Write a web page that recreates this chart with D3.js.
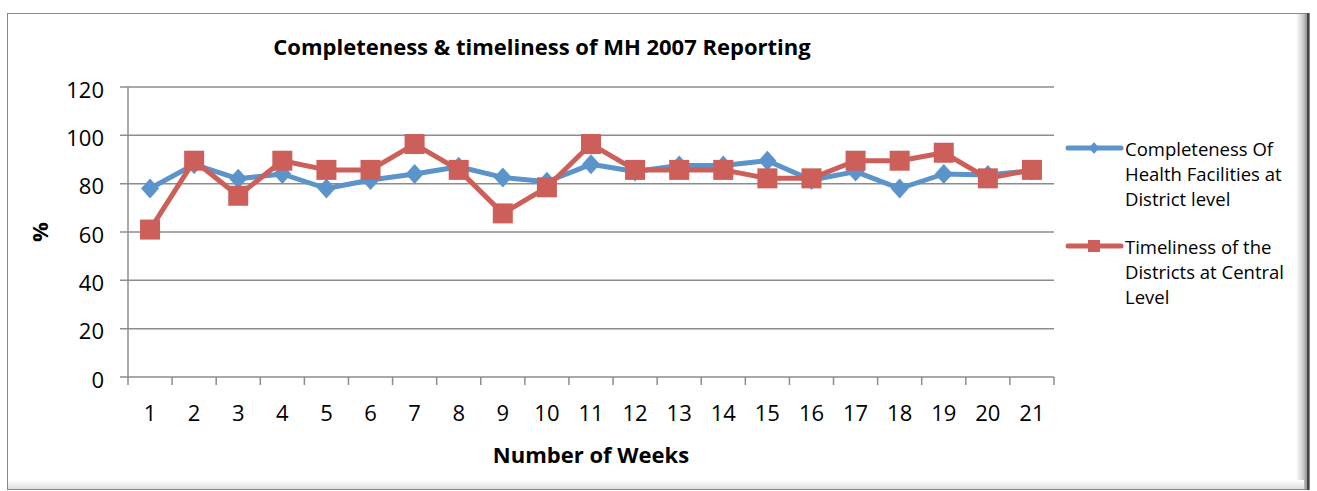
<!DOCTYPE html>
<html><head><meta charset="utf-8">
<script src="https://cdn.jsdelivr.net/npm/d3@7"></script>
<style>body{margin:0;background:#fff;} svg{display:block;} text{font-family:"Open Sans","Noto Sans",sans-serif;}</style>
</head><body><svg id="c" width="1317" height="491"></svg>
<script>
const weeks = ["1","2","3","4","5","6","7","8","9","10","11","12","13","14","15","16","17","18","19","20","21"];
const completeness = [78,88,82,84,78,81.5,84,87,82.6,80.8,88,85,87.5,87.5,89.5,81.5,85,78,84,83.6,85.4];
const timeliness = [61,89.5,75,89.5,85.7,85.7,96.4,85.7,67.7,78.5,96.4,85.7,85.7,85.7,82.2,82.2,89.5,89.5,92.8,82.2,85.7];
const yTicks = [0,20,40,60,80,100,120];
const seriesNames = [["Completeness Of","Health Facilities at","District level"],["Timeliness of the","Districts at Central","Level"]];
const colors = ["#5B93CB","#CD5F5A"];

(function(){
const svg = d3.select("#c");
const defs = svg.append("defs");
const g1 = defs.append("linearGradient").attr("id","sh").attr("x1",0).attr("x2",1);
g1.append("stop").attr("offset",0).attr("stop-color","#fff");
g1.append("stop").attr("offset",0.5).attr("stop-color","#ccc");
g1.append("stop").attr("offset",1).attr("stop-color","#666");
svg.append("rect").attr("x",1296).attr("y",13).attr("width",14).attr("height",476).attr("fill","url(#sh)");
const g2 = defs.append("linearGradient").attr("id","sh2").attr("x1",0).attr("x2",0).attr("y1",0).attr("y2",1);
g2.append("stop").attr("offset",0).attr("stop-color","#fff");
g2.append("stop").attr("offset",1).attr("stop-color","#ddd");
svg.append("rect").attr("x",8).attr("y",480).attr("width",1296).attr("height",9).attr("fill","url(#sh2)");
svg.append("rect").attr("x",7.5).attr("y",13.5).attr("width",1302).attr("height",476).attr("fill","none").attr("stroke","#888").attr("stroke-width",1);
svg.append("line").attr("x1",1308).attr("x2",1308).attr("y1",13).attr("y2",490).attr("stroke","#444").attr("stroke-width",2);

const pL = 128, pR = 1054, pT = 87, pB = 377;
const x = d3.scaleBand().domain(weeks).range([pL,pR]);
const y = d3.scaleLinear().domain([0,120]).range([pB,pT]);

svg.append("g").selectAll("line").data(yTicks).join("line")
  .attr("x1",pL-8).attr("x2",pR).attr("y1",d=>y(d)).attr("y2",d=>y(d))
  .attr("stroke","#8c8c8c").attr("stroke-width",1.5);
svg.append("line").attr("x1",pL).attr("x2",pL).attr("y1",pT).attr("y2",pB).attr("stroke","#8c8c8c").attr("stroke-width",1.5);
const xt = weeks.map((w,i)=>pL + i*x.step()).concat([pR]);
svg.append("g").selectAll("line").data(xt).join("line")
  .attr("x1",d=>d).attr("x2",d=>d).attr("y1",pB).attr("y2",pB+8)
  .attr("stroke","#8c8c8c").attr("stroke-width",1.5);

svg.append("g").selectAll("text").data(yTicks).join("text")
  .attr("x",104).attr("y",d=>y(d)+3).attr("dy","0.35em").attr("text-anchor","end")
  .attr("font-size",22).attr("fill","#000").text(d=>d);
svg.append("g").selectAll("text").data(weeks).join("text")
  .attr("x",d=>x(d)+x.bandwidth()/2).attr("y",421).attr("text-anchor","middle")
  .attr("font-size",22).attr("fill","#000").text(d=>d);

svg.append("text").attr("x",542).attr("y",55).attr("text-anchor","middle").attr("font-size",22).attr("font-weight","bold").text("Completeness & timeliness of MH 2007 Reporting");
svg.append("text").attr("x",591).attr("y",463).attr("text-anchor","middle").attr("font-size",22).attr("font-weight","bold").text("Number of Weeks");
svg.append("text").attr("transform","translate(48,232) rotate(-90)").attr("text-anchor","middle").attr("font-size",22).attr("font-weight","bold").text("%");

const line = d3.line().x((d,i)=>x(weeks[i])+x.bandwidth()/2).y(d=>y(d));
[completeness, timeliness].forEach((s,k)=>{
  svg.append("path").datum(s).attr("d",line).attr("fill","none").attr("stroke",colors[k]).attr("stroke-width",5).attr("stroke-linejoin","round");
});
svg.append("g").selectAll("path").data(completeness).join("path")
  .attr("transform",(d,i)=>`translate(${x(weeks[i])+x.bandwidth()/2},${y(d)})`)
  .attr("d","M0,-10L9,0L0,10L-9,0Z").attr("fill",colors[0]);
svg.append("g").selectAll("rect").data(timeliness).join("rect")
  .attr("x",(d,i)=>x(weeks[i])+x.bandwidth()/2-10).attr("y",d=>y(d)-10)
  .attr("width",20).attr("height",20).attr("fill",colors[1]);

const legY = [148,246];
seriesNames.forEach((lines,k)=>{
  const ly = legY[k];
  svg.append("line").attr("x1",1068).attr("x2",1121).attr("y1",ly).attr("y2",ly).attr("stroke",colors[k]).attr("stroke-width",5).attr("stroke-linecap","round");
  if(k===0) svg.append("path").attr("transform",`translate(1094,${ly})`).attr("d","M0,-6L5,0L0,6L-5,0Z").attr("fill",colors[0]);
  else svg.append("rect").attr("x",1088).attr("y",ly-6).attr("width",12).attr("height",12).attr("fill",colors[1]);
  const t = svg.append("text").attr("x",1125).attr("y",ly).attr("font-size",18.5).attr("fill","#000");
  lines.forEach((s,j)=>t.append("tspan").attr("x",1125).attr("y",ly+2+j*25).attr("dy","0.35em").text(s));
});
})();
</script></body></html>
